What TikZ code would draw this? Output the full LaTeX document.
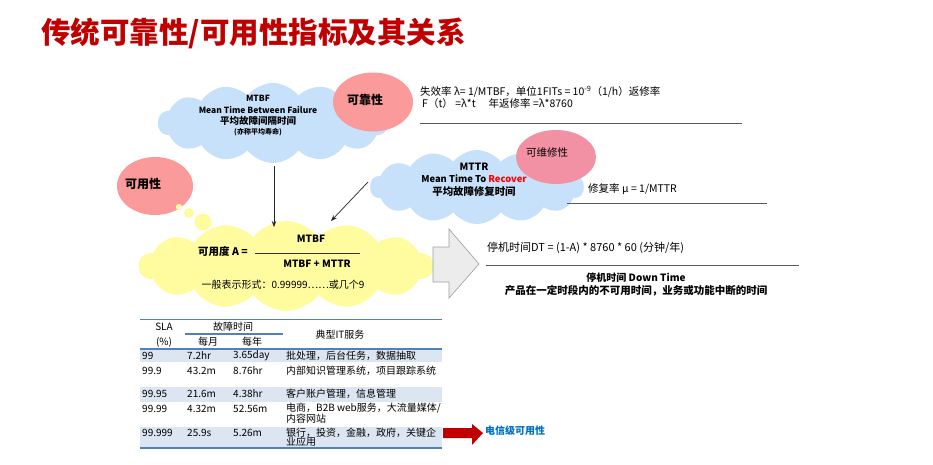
\documentclass[tikz,border=0pt]{standalone}
\usepackage{fontspec}
\setmainfont{Noto Sans CJK SC}
\usetikzlibrary{shapes.symbols,shapes.geometric,arrows.meta}

\definecolor{titlered}{RGB}{192,0,0}
\definecolor{cloudblue}{RGB}{200,225,250}
\definecolor{cloudyellow}{RGB}{255,252,160}
\definecolor{salmon}{RGB}{250,154,154}
\definecolor{rose}{RGB}{242,145,163}
\definecolor{rowblue}{RGB}{220,230,242}
\definecolor{lineblue}{RGB}{79,129,189}
\definecolor{telblue}{RGB}{0,112,192}
\definecolor{rulegray}{RGB}{90,90,90}
\newcommand\fsz[1]{\fontsize{#1}{#1}\selectfont}

\tikzset{
  bubble/.style={cloud, cloud puffs=14, cloud puff arc=105, cloud ignores aspect, inner sep=0pt},
  blob/.style={ellipse, inner sep=0pt},
  txt/.style={inner sep=0pt, font=\fsz{10.5}},
  link/.style={black!85, line width=0.7pt, -{Stealth[length=6pt, width=4.5pt]}},
  rule/.style={rulegray, line width=1pt},
  cell/.style={inner sep=0pt, anchor=west, font=\fsz{10}},
}

\begin{document}
\begin{tikzpicture}[x=1pt,y=-1pt]
\useasboundingbox (0,0) rectangle (933,464);
% title
\node[anchor=west, inner sep=0pt, font=\fsz{29.5}\bfseries, text=titlered] (title) at (41,33) {传统可靠性/可用性指标及其关系};

% clouds and ellipses
\node[bubble, fill=cloudblue, minimum width=230, minimum height=80] (mtbf) at (273,123) {};
\node[blob, fill=salmon, minimum width=80, minimum height=59] (rel) at (373,102) {};
\node[bubble, fill=cloudblue, minimum width=214, minimum height=74] (mttr) at (477,187) {};
\node[blob, fill=rose, minimum width=80, minimum height=54] (maint) at (556,157) {};
\node[bubble, fill=cloudyellow, minimum width=294, minimum height=90] (avail) at (286,266) {};
\node[blob, fill=salmon, minimum width=76, minimum height=58] (avl) at (155,186) {};
\fill[cloudyellow] (179,207) circle (3.2) (189,213) circle (5) (203,222) circle (8.5);

% cloud texts
\node[txt, font=\fsz{8.5}\bfseries] (mtbfa) at (258,98) {MTBF};
\node[txt, font=\fsz{8.5}\bfseries] (mtbfb) at (258,110) {Mean Time Between Failure};
\node[txt, font=\fsz{9.5}\bfseries] (mtbfc) at (258,121) {平均故障间隔时间};
\node[txt, font=\fsz{7}\bfseries] (mtbfd) at (258,132) {(亦称平均寿命)};
\node[txt, font=\fsz{12}\bfseries] (reltxt) at (365,100) {可靠性};
\node[txt, font=\fsz{12}\bfseries] (avltxt) at (143,184) {可用性};
\node[txt, font=\fsz{10.5}] (mainttxt) at (547,153) {可维修性};
\node[txt, font=\fsz{10}\bfseries] (mttra) at (474,167) {MTTR};
\node[txt, font=\fsz{9.4}\bfseries] (mttrb) at (474,179) {Mean Time To \textcolor{red}{Recover}};
\node[txt, font=\fsz{10.4}\bfseries] (mttrc) at (474,191) {平均故障修复时间};

% availability formula
\node[txt, font=\fsz{10.5}\bfseries] (aeq) at (223,251) {可用度 A =};
\node[txt, font=\fsz{10}\bfseries] (anum) at (311,239) {MTBF};
\draw[black!80, line width=0.8pt] (255,253) -- (360,253);
\node[txt, font=\fsz{10}\bfseries] (aden) at (317,264) {MTBF + MTTR};
\node[txt, font=\fsz{10}] (aform) at (283,285) {一般表示形式：0.99999……或几个9};

% arrows into the availability cloud
\coordinate (mtbfout) at (274,166);
\coordinate (availtop) at (274,227);
\coordinate (mttrout) at (368,182);
\coordinate (availside) at (331,221);
\draw[link] (mtbfout) -- (availtop);
\draw[link] (mttrout) -- (availside);

% right hand notes
\node[txt, anchor=west] (lam) at (420,92) {失效率 λ= 1/MTBF，单位1FITs = 10\textsuperscript{-9}（1/h）返修率};
\node[txt, anchor=west] (ft) at (422,104) {F（t） =λ*t \quad 年返修率 =λ*8760};
\draw[rule] (420,123) -- (742,123);
\node[txt, anchor=west] (mu) at (588,189) {修复率 μ = 1/MTTR};
\draw[rule] (567,203) -- (767,203);

% down time
\fill[gray!15, draw=gray!75, line width=0.6pt] (433,247) -- (449,247) -- (449,229) -- (479,264) -- (449,298) -- (449,282) -- (433,282) -- cycle;
\node[txt, anchor=west, font=\fsz{11}] (dt) at (487,248) {停机时间DT = (1-A) * 8760 * 60 (分钟/年)};
\draw[rule] (486,265) -- (799,265);
\node[txt, font=\fsz{10}\bfseries] (dta) at (636,278) {停机时间 Down Time};
\node[txt, font=\fsz{10.5}\bfseries] (dtb) at (636,291) {产品在一定时段内的不可用时间，业务或功能中断的时间};

% SLA table
\fill[rowblue] (140,349) rectangle (442,362);
\fill[rowblue] (140,387) rectangle (442,402);
\fill[rowblue] (140,427) rectangle (442,448);
\draw[lineblue, line width=1pt] (140,319) -- (442,319);
\draw[lineblue, line width=1.2pt] (185,334) -- (283,334);
\draw[lineblue, line width=1.5pt] (140,349) -- (442,349);
\draw[lineblue, line width=1.2pt] (140,448) -- (442,448);
\node[txt, font=\fsz{10}] (hsla) at (164,327) {SLA};
\node[txt, font=\fsz{10}] (hpct) at (164,342) {(\%)};
\node[txt, font=\fsz{10}] (hfail) at (233,327) {故障时间};
\node[txt, font=\fsz{10}] (hmon) at (208,342) {每月};
\node[txt, font=\fsz{10}] (hyear) at (252,342) {每年};
\node[txt, font=\fsz{10}] (hsvc) at (340,335) {典型IT服务};
% rows
\node[cell] (r1a) at (142,356) {99};
\node[cell] (r1b) at (187,356) {7.2hr};
\node[cell] (r1c) at (233,356) {3.65day};
\node[cell] (r1d) at (286,356) {批处理，后台任务，数据抽取};
\node[cell] (r2a) at (142,371) {99.9};
\node[cell] (r2b) at (187,371) {43.2m};
\node[cell] (r2c) at (233,371) {8.76hr};
\node[cell] (r2d) at (286,371) {内部知识管理系统，项目跟踪系统};
\node[cell] (r3a) at (142,394) {99.95};
\node[cell] (r3b) at (187,394) {21.6m};
\node[cell] (r3c) at (233,394) {4.38hr};
\node[cell] (r3d) at (286,394) {客户账户管理，信息管理};
\node[cell] (r4a) at (142,408.5) {99.99};
\node[cell] (r4b) at (187,408.5) {4.32m};
\node[cell] (r4c) at (233,408.5) {52.56m};
\node[cell] (r4d) at (286,408.5) {电商，B2B web服务，大流量媒体/};
\node[cell] (r4e) at (286,418.5) {内容网站};
\node[cell] (r5a) at (142,432.5) {99.999};
\node[cell] (r5b) at (187,432.5) {25.9s};
\node[cell] (r5c) at (233,432.5) {5.26m};
\node[cell] (r5d) at (286,432.5) {银行，投资，金融，政府，关键企};
\node[cell] (r5e) at (286,442) {业应用};

% carrier grade
\fill[titlered] (443,428) -- (472,428) -- (472,424) -- (483,433) -- (472,445) -- (472,438) -- (443,438) -- cycle;
\node[cell, font=\fsz{10}\bfseries, text=telblue] (tel) at (485,431) {电信级可用性};
\end{tikzpicture}
\end{document}
